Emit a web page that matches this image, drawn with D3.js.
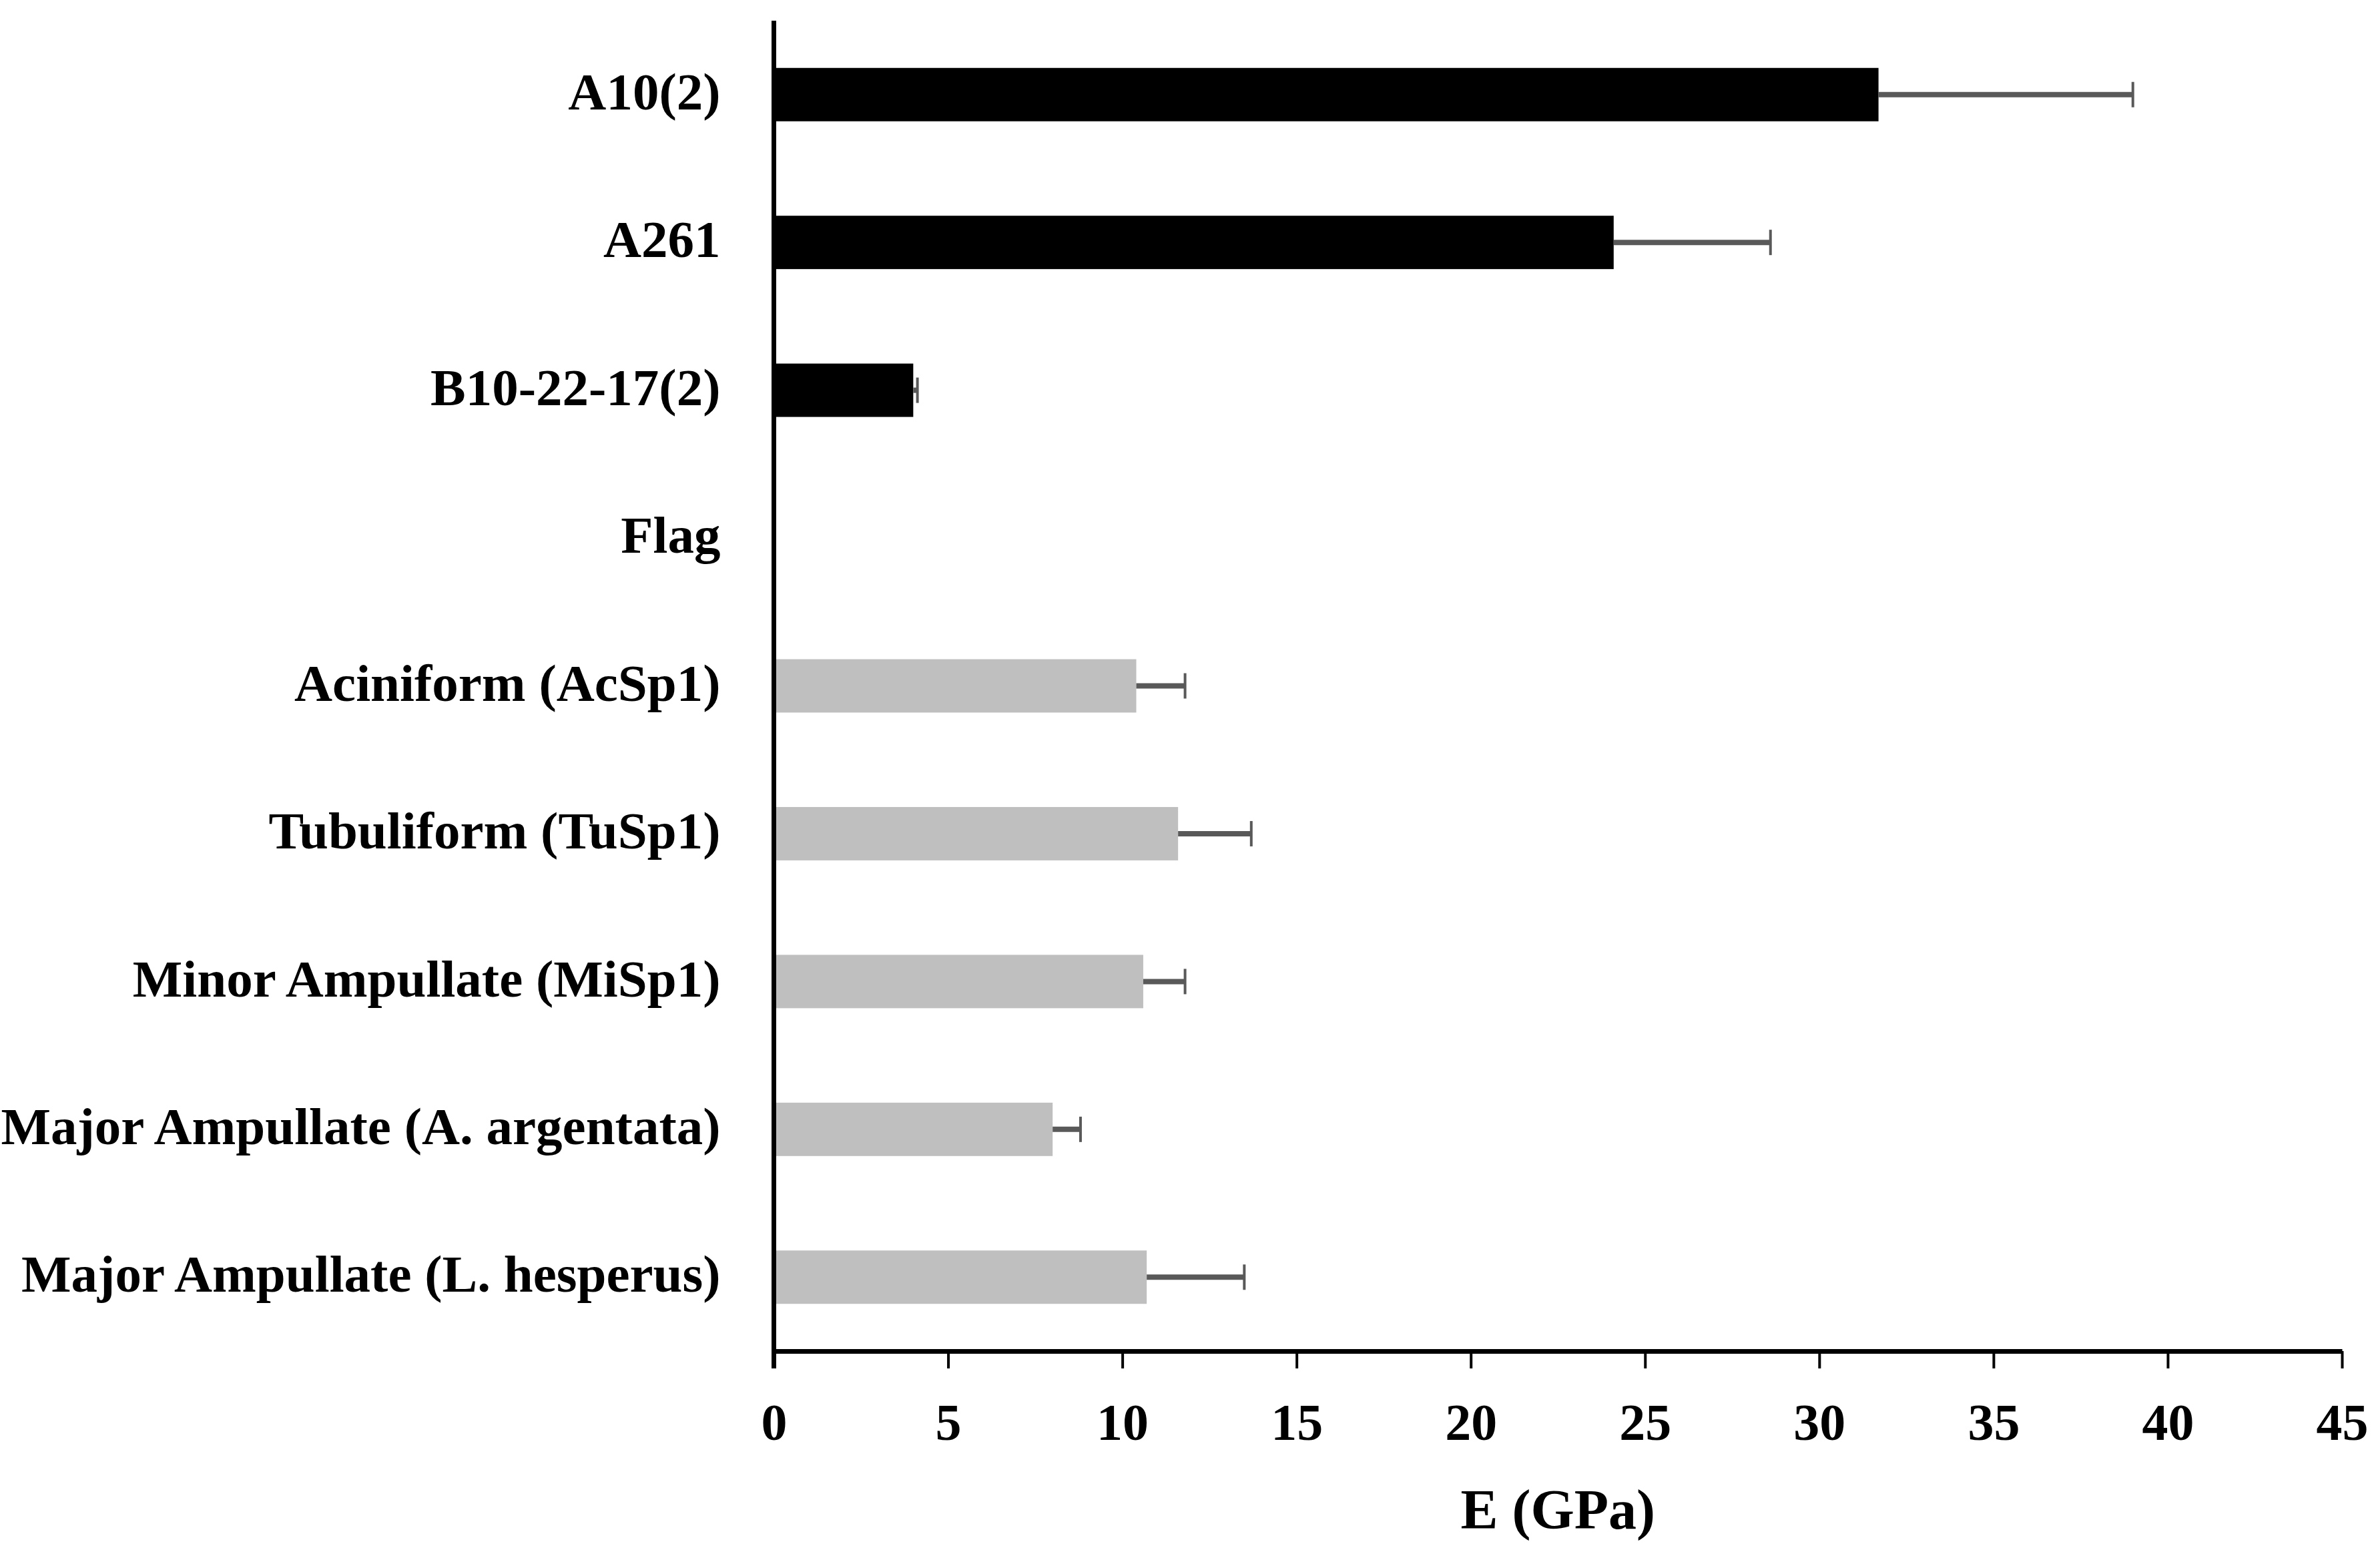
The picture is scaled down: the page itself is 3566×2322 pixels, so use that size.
<!DOCTYPE html>
<html>
<head>
<meta charset="utf-8">
<script src="https://cdn.jsdelivr.net/npm/d3@7"></script>
<style>
  html, body { margin: 0; padding: 0; background: #fff; }
  svg { display: block; }
  text { font-family: "Liberation Serif", "Times New Roman", serif; font-weight: bold; fill: #000; }
</style>
</head>
<body>
<svg id="chart" width="3566" height="2322"></svg>
<script>
// ---- data ----
const categories = [
  "A10(2)",
  "A261",
  "B10-22-17(2)",
  "Flag",
  "Aciniform (AcSp1)",
  "Tubuliform (TuSp1)",
  "Minor Ampullate (MiSp1)",
  "Major Ampullate (A. argentata)",
  "Major Ampullate (L. hesperus)"
];
const values = [31.7, 24.1, 4.0, null, 10.4, 11.6, 10.6, 8.0, 10.7];
const errors = [7.3, 4.5, 0.12, null, 1.4, 2.1, 1.2, 0.8, 2.8];
const groups = ["recombinant", "recombinant", "recombinant", "recombinant",
                "natural", "natural", "natural", "natural", "natural"];
const xTicks = [0, 5, 10, 15, 20, 25, 30, 35, 40, 45];
const xTitle = "E (GPa)";

// ---- layout ----
const svg = d3.select("#chart");
const plot = { left: 1159.5, right: 3509, top: 31, bottom: 2024 };
const groupColor = { recombinant: "#000000", natural: "#bfbfbf" };
const errColor = "#595959";

const x = d3.scaleLinear().domain([0, 45]).range([plot.left, plot.right]);
const y = d3.scaleBand().domain(categories).range([plot.top, plot.bottom])
  .paddingInner(0.639).paddingOuter(0.3195);

const data = categories.map((c, i) => ({ c, v: values[i], e: errors[i], g: groups[i] }))
  .filter(d => d.v !== null);

// bars
svg.append("g").selectAll("rect").data(data).join("rect")
  .attr("x", x(0))
  .attr("y", d => y(d.c))
  .attr("width", d => x(d.v) - x(0))
  .attr("height", y.bandwidth())
  .attr("fill", d => groupColor[d.g]);

// error bars (plus direction only)
const eg = svg.append("g");
eg.selectAll("line.eb").data(data).join("line")
  .attr("class", "eb")
  .attr("x1", d => x(d.v)).attr("x2", d => x(d.v + d.e))
  .attr("y1", d => y(d.c) + y.bandwidth() / 2).attr("y2", d => y(d.c) + y.bandwidth() / 2)
  .attr("stroke", errColor).attr("stroke-width", 8);
eg.selectAll("line.cap").data(data).join("line")
  .attr("class", "cap")
  .attr("x1", d => x(d.v + d.e)).attr("x2", d => x(d.v + d.e))
  .attr("y1", d => y(d.c) + y.bandwidth() / 2 - 19).attr("y2", d => y(d.c) + y.bandwidth() / 2 + 19)
  .attr("stroke", errColor).attr("stroke-width", 4);

// x axis
const tickLen = 26;
const xAxis = svg.append("g")
  .attr("transform", `translate(0,${plot.bottom})`)
  .call(d3.axisBottom(x).tickValues(xTicks).tickSize(tickLen).tickSizeOuter(0).tickFormat(d3.format("d")));
xAxis.select(".domain").attr("stroke", "#000").attr("stroke-width", 7);
xAxis.selectAll(".tick line").attr("stroke", "#000").attr("stroke-width", 4);
xAxis.selectAll(".tick text")
  .attr("y", 133).attr("dy", 0)
  .style("font-size", "78px");

// y axis
const yAxis = svg.append("g")
  .attr("transform", `translate(${plot.left},0)`)
  .call(d3.axisLeft(y).tickSize(0).tickPadding(80));
yAxis.select(".domain").remove();
yAxis.selectAll(".tick text")
  .attr("dy", "0.28em")
  .style("font-size", "79px");
svg.append("line")
  .attr("x1", plot.left).attr("x2", plot.left)
  .attr("y1", plot.top).attr("y2", plot.bottom + tickLen)
  .attr("stroke", "#000").attr("stroke-width", 7);

// axis title
svg.append("text")
  .attr("x", (plot.left + plot.right) / 2)
  .attr("y", 2290)
  .attr("text-anchor", "middle")
  .style("font-size", "84px")
  .text(xTitle);
</script>
</body>
</html>
